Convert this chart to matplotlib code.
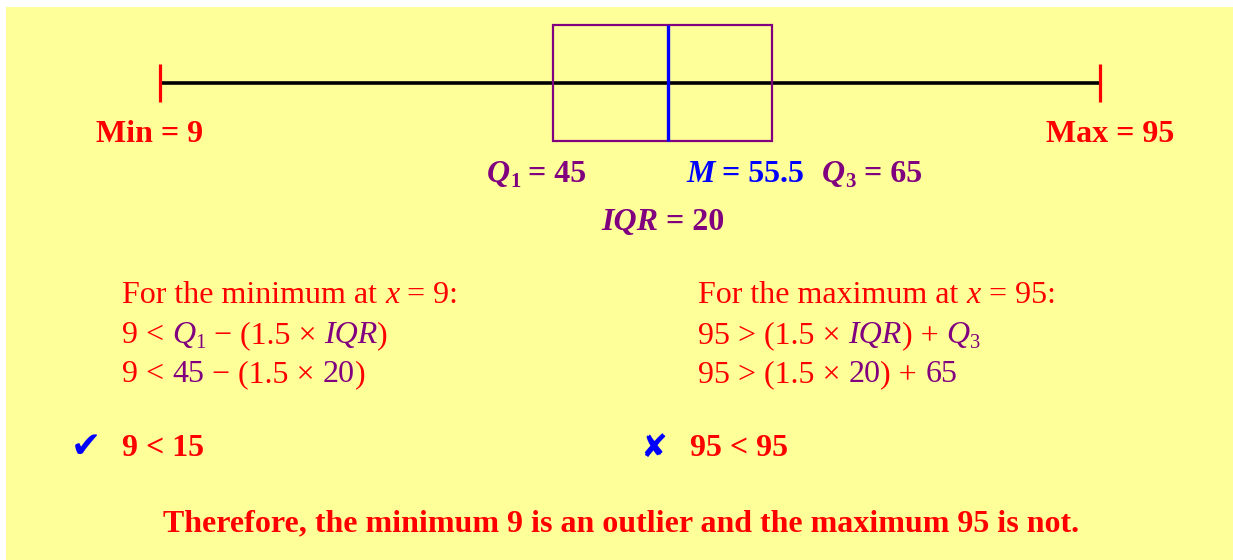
import matplotlib
matplotlib.use('Agg')
import matplotlib.pyplot as plt
from matplotlib.patches import Rectangle
from matplotlib.transforms import IdentityTransform

# five-number summary
v_min = 9
q1 = 45
median = 55.5
q3 = 65
v_max = 95
iqr = q3 - q1

RED = '#FF0000'
PURPLE = '#800080'
BLUE = '#0000FF'
YELLOW = '#FFFF99'
W, H = 1233, 560

fig = plt.figure(figsize=(W / 100, H / 100), dpi=100, facecolor='white')
fig.patches.append(Rectangle((6 / W, 0), 1 - 6 / W, (H - 7) / H, transform=fig.transFigure,
                             facecolor=YELLOW, edgecolor='none', zorder=-5))

# axis: min at px 160, max at px 1100; y in pixel-like units (top = 0)
ax = fig.add_axes([0, 0, 1, 1])
ax.set_zorder(2)
scale = (1100 - 160) / (v_max - v_min)
x0 = v_min - 160 / scale
ax.set_xlim(x0, x0 + W / scale)
ax.set_ylim(H, 0)
ax.axis('off')
ax.patch.set_alpha(0)

mid, top, bot = 83, 25, 141
ax.hlines(mid, v_min, v_max, color='black', lw=2.6, zorder=2)
ax.vlines([v_min, v_max], 64, 102, color=RED, lw=2.3, zorder=3)
ax.add_patch(Rectangle((q1, top), q3 - q1, bot - top, fill=False, edgecolor=PURPLE, lw=1.6, zorder=3))
ax.vlines(median, top, bot, color=BLUE, lw=2.4, zorder=4)

renderer = fig.canvas.get_renderer()
SERIF = 'Liberation Serif'


def text_width(s, **kw):
    t = fig.text(0, 0, '|' + s + '|', transform=IdentityTransform(), family=SERIF, **kw)
    w1 = t.get_window_extent(renderer).width
    t.set_text('||')
    w2 = t.get_window_extent(renderer).width
    t.remove()
    return w1 - w2


def rich(x, y, pieces, size, weight='normal', center=False):
    # pieces: (text, colour, style, is_subscript)
    widths = []
    for s, c, st, sub in pieces:
        sz = size * 0.65 if sub else size
        widths.append(text_width(s, fontsize=sz, weight=weight, style=st))
    if center:
        x = x - sum(widths) / 2
    for (s, c, st, sub), w in zip(pieces, widths):
        sz = size * 0.65 if sub else size
        yy = H - y - (size * 0.22 if sub else 0)
        fig.text(x, yy, s, transform=IdentityTransform(), family=SERIF, fontsize=sz,
                 weight=weight, style=st, color=c, ha='left', va='baseline')
        x += w


N, I = 'normal', 'italic'
BS = 23
rich(150, 142, [('Min = 9', RED, N, False)], BS, 'bold', center=True)
rich(1110, 142, [('Max = 95', RED, N, False)], BS, 'bold', center=True)
rich(487, 182, [('Q', PURPLE, I, False), ('1', PURPLE, N, True), (' = %d' % q1, PURPLE, N, False)], BS, 'bold')
rich(686, 182, [('M', BLUE, I, False), (' = %g' % median, BLUE, N, False)], BS, 'bold')
rich(822, 182, [('Q', PURPLE, I, False), ('3', PURPLE, N, True), (' = %d' % q3, PURPLE, N, False)], BS, 'bold')
rich(601, 230, [('IQR', PURPLE, I, False), (' = %d' % iqr, PURPLE, N, False)], BS, 'bold')

RS = 23
rich(122, 303, [('For the minimum at ', RED, N, False), ('x', RED, I, False), (' = %d:' % v_min, RED, N, False)], RS)
rich(122, 343, [('%d < ' % v_min, RED, N, False), ('Q', PURPLE, I, False), ('1', PURPLE, N, True),
                (' \u2212 (1.5 \u00d7 ', RED, N, False), ('IQR', PURPLE, I, False), (')', RED, N, False)], RS)
rich(122, 382, [('%d < ' % v_min, RED, N, False), ('%d' % q1, PURPLE, N, False),
                (' \u2212 (1.5 \u00d7 ', RED, N, False), ('%d' % iqr, PURPLE, N, False), (')', RED, N, False)], RS)

rich(698, 303, [('For the maximum at ', RED, N, False), ('x', RED, I, False), (' = %d:' % v_max, RED, N, False)], RS)
rich(698, 343, [('%d > (1.5 \u00d7 ' % v_max, RED, N, False), ('IQR', PURPLE, I, False), (') + ', RED, N, False),
                ('Q', PURPLE, I, False), ('3', PURPLE, N, True)], RS)
rich(698, 382, [('%d > (1.5 \u00d7 ' % v_max, RED, N, False), ('%d' % iqr, PURPLE, N, False), (') + ', RED, N, False),
                ('%d' % q3, PURPLE, N, False)], RS)

fig.text(71, H - 457, '\u2714', transform=IdentityTransform(), family='DejaVu Sans', fontsize=26,
         color=BLUE, ha='left', va='baseline')
rich(122, 456, [('%d < %d' % (v_min, q1 - 1.5 * iqr), RED, N, False)], BS, 'bold')
fig.text(640, H - 457, '\u2718', transform=IdentityTransform(), family='DejaVu Sans', fontsize=23,
         color=BLUE, ha='left', va='baseline')
rich(690, 456, [('%d < %d' % (v_max, q3 + 1.5 * iqr), RED, N, False)], BS, 'bold')

rich(621, 531, [('Therefore, the minimum %d is an outlier and the maximum %d is not.' % (v_min, v_max),
                 RED, N, False)], BS, 'bold', center=True)

fig.savefig('out.png', dpi=100, facecolor='white')
